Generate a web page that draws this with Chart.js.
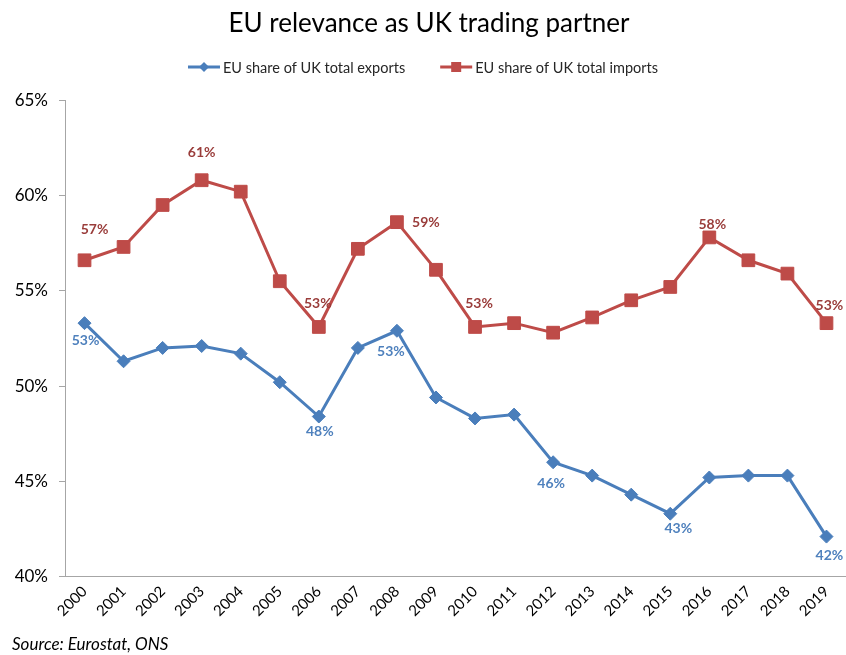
<!DOCTYPE html>
<html>
<head>
<meta charset="utf-8">
<title>EU relevance as UK trading partner</title>
<script src="https://cdn.jsdelivr.net/npm/chart.js@4.4.1/dist/chart.umd.min.js"></script>
<style>
  html, body { margin: 0; padding: 0; background: #fff; }
  #wrap { width: 846px; height: 655px; }
</style>
</head>
<body>
<div id="wrap"><canvas id="tradeChart" width="846" height="655"></canvas></div>
<script>
// Share of UK trade going to / coming from the EU, in %
const years = ['2000', '2001', '2002', '2003', '2004', '2005', '2006', '2007', '2008', '2009',
               '2010', '2011', '2012', '2013', '2014', '2015', '2016', '2017', '2018', '2019'];
const exportShare = [53.3, 51.3, 52.0, 52.1, 51.7, 50.2, 48.4, 52.0, 52.9, 49.4,
                     48.3, 48.5, 46.0, 45.3, 44.3, 43.3, 45.2, 45.3, 45.3, 42.1];
const importShare = [56.6, 57.3, 59.5, 60.8, 60.2, 55.5, 53.1, 57.2, 58.6, 56.1,
                     53.1, 53.3, 52.8, 53.6, 54.5, 55.2, 57.8, 56.6, 55.9, 53.3];
const seriesNames = ['EU share of UK total exports', 'EU share of UK total imports'];
const yMin = 40, yMax = 65, yStep = 5;

// labelled points: index -> [dx, dy] offset of the label from its marker
const exportLabelOffsets = { 0: [1, 17], 6: [1, 15], 8: [-6, 21], 12: [-2, 21], 15: [8, 15], 19: [3, 19] };
const importLabelOffsets = { 0: [10, -31], 3: [0, -28], 6: [-1, -23], 8: [29, 0], 10: [4, -23], 16: [3, -13], 19: [3, -18] };

const FONT = 'Lato, "Open Sans", sans-serif';
const BLUE = '#4a7ebb', RED = '#be4b48';
const BLUE_TXT = '#4f81bd', RED_TXT = '#9a3d3b';

// draws the "xx%" value labels next to selected markers
const valueLabels = {
  id: 'valueLabels',
  afterDatasetsDraw(chart) {
    const ctx = chart.ctx;
    const offsets = [exportLabelOffsets, importLabelOffsets];
    const colors = [BLUE_TXT, RED_TXT];
    ctx.save();
    ctx.font = 'bold 14px ' + FONT;
    ctx.textAlign = 'center';
    ctx.textBaseline = 'middle';
    chart.data.datasets.forEach((ds, di) => {
      const meta = chart.getDatasetMeta(di);
      ctx.fillStyle = colors[di];
      Object.keys(offsets[di]).forEach(k => {
        const i = Number(k);
        const pt = meta.data[i];
        const [dx, dy] = offsets[di][k];
        ctx.fillText(Math.round(ds.data[i]) + '%', pt.x + dx, pt.y + dy);
      });
    });
    ctx.restore();
  }
};

// legend with line + marker swatches, centred under the title
const lineLegend = {
  id: 'lineLegend',
  afterDraw(chart) {
    const ctx = chart.ctx;
    const y = 67, swatch = 32, gapText = 3, gapItem = 35;
    ctx.save();
    ctx.font = '14.5px ' + FONT;
    ctx.textBaseline = 'middle';
    const items = chart.data.datasets.map(ds => ({
      ds, w: swatch + gapText + ctx.measureText(ds.label).width
    }));
    const total = items.reduce((s, it) => s + it.w, 0) + gapItem * (items.length - 1);
    let x = chart.width / 2 - total / 2;
    items.forEach(({ ds, w }) => {
      ctx.strokeStyle = ds.borderColor;
      ctx.lineWidth = 3;
      ctx.beginPath();
      ctx.moveTo(x, y);
      ctx.lineTo(x + swatch, y);
      ctx.stroke();
      ctx.fillStyle = ds.pointBackgroundColor;
      const cx = x + swatch / 2;
      if (ds.pointStyle === 'rectRot') {
        ctx.beginPath();
        ctx.moveTo(cx, y - 5);
        ctx.lineTo(cx + 5, y);
        ctx.lineTo(cx, y + 5);
        ctx.lineTo(cx - 5, y);
        ctx.closePath();
        ctx.fill();
      } else {
        ctx.fillRect(cx - 5, y - 5, 10, 10);
      }
      ctx.fillStyle = '#262626';
      ctx.fillText(ds.label, x + swatch + gapText, y + 1);
      x += w + gapItem;
    });
    ctx.restore();
  }
};

const ctx = document.getElementById('tradeChart').getContext('2d');
new Chart(ctx, {
  type: 'line',
  data: {
    labels: years,
    datasets: [{
      label: seriesNames[0],
      data: exportShare,
      borderColor: BLUE,
      backgroundColor: BLUE,
      pointBackgroundColor: BLUE,
      pointBorderColor: BLUE,
      borderWidth: 3,
      pointStyle: 'rectRot',
      pointRadius: 6.5,
      pointBorderWidth: 1,
      tension: 0
    }, {
      label: seriesNames[1],
      data: importShare,
      borderColor: RED,
      backgroundColor: RED,
      pointBackgroundColor: RED,
      pointBorderColor: RED,
      borderWidth: 3,
      pointStyle: 'rect',
      pointRadius: 9,
      pointBorderWidth: 1,
      tension: 0
    }]
  },
  options: {
    responsive: false,
    animation: false,
    layout: { autoPadding: false, padding: { left: 12, right: 0, top: 0, bottom: 0 } },
    plugins: {
      legend: { display: false },
      tooltip: { enabled: false },
      title: {
        display: true,
        text: 'EU relevance as UK trading partner',
        color: '#000',
        font: { family: FONT, size: 26, weight: 'normal' },
        padding: { top: 8, bottom: 61 }
      },
      subtitle: {
        display: true,
        position: 'bottom',
        align: 'start',
        text: 'Source: Eurostat, ONS',
        color: '#000',
        font: { family: FONT, size: 17, style: 'italic' },
        padding: { top: 0, bottom: 0 }
      }
    },
    scales: {
      x: {
        offset: true,
        grid: { display: true, drawOnChartArea: false, drawTicks: false },
        border: { color: '#a6a6a6', width: 1 },
        ticks: {
          color: '#000',
          font: { family: FONT, size: 15 },
          minRotation: 45,
          maxRotation: 45,
          padding: 6,
          autoSkip: false
        },
        afterFit(scale) {
          scale.height = 58;
          scale.paddingRight = 0;
        }
      },
      y: {
        min: yMin,
        max: yMax,
        grid: { display: true, drawOnChartArea: false, drawTicks: true, tickLength: 6, color: '#a6a6a6' },
        border: { color: '#a6a6a6', width: 1 },
        ticks: {
          stepSize: yStep,
          color: '#000',
          font: { family: FONT, size: 17 },
          padding: 11,
          callback: v => v + '%'
        },
        afterFit(scale) { scale.width = 53; }
      }
    }
  },
  plugins: [valueLabels, lineLegend]
});
</script>
</body>
</html>
